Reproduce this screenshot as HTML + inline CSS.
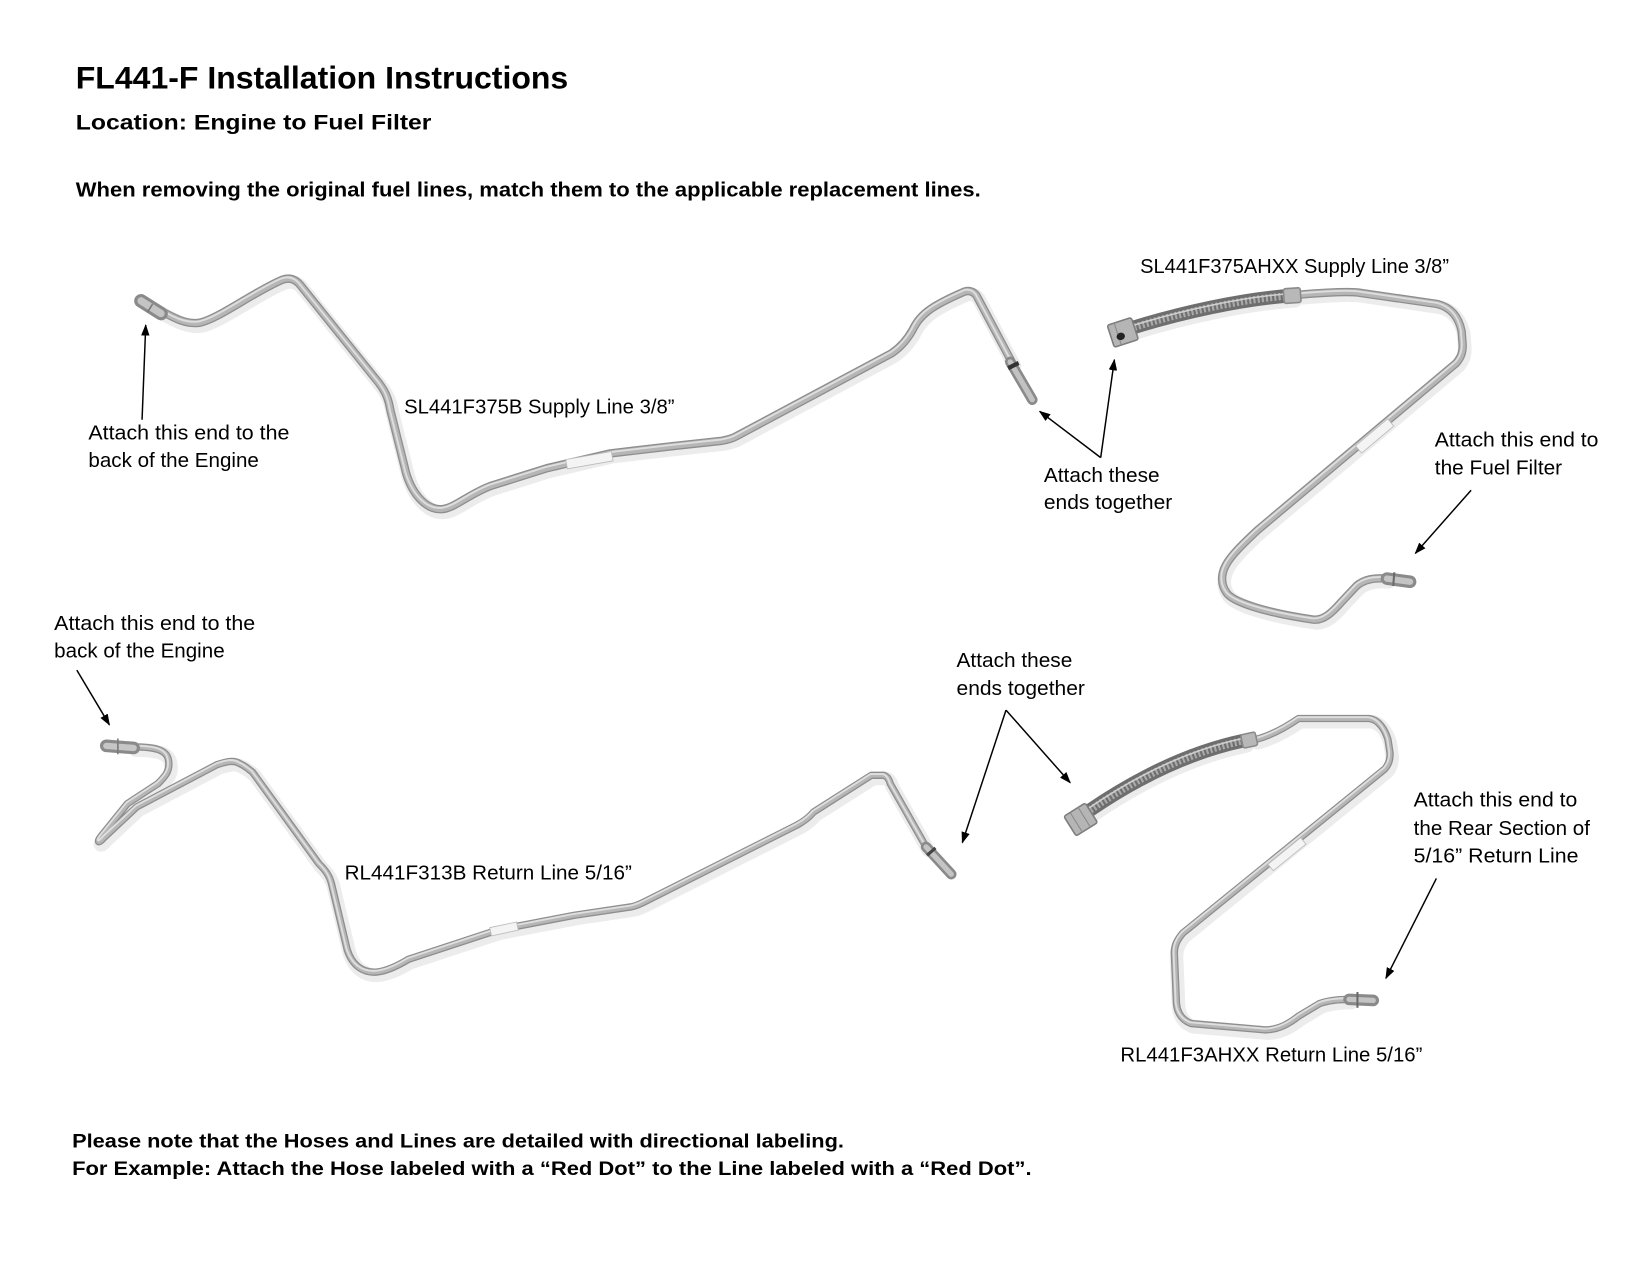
<!DOCTYPE html>
<html><head><meta charset="utf-8"><style>
html,body{margin:0;padding:0;background:#fff;}
svg{display:block;}
text{font-family:"Liberation Sans",sans-serif;fill:#000;}
.b{font-weight:bold;}
.tube-o{fill:none;stroke:#8e8e8e;stroke-width:8;stroke-linejoin:round;stroke-linecap:round;}
.tube-m{fill:none;stroke:#b6b6b6;stroke-width:5.5;stroke-linejoin:round;stroke-linecap:round;}
.tube-h{fill:none;stroke:#dedede;stroke-width:1.8;stroke-linejoin:round;stroke-linecap:round;}
.tube-s{fill:none;stroke:#ececec;stroke-width:13;stroke-linejoin:round;stroke-linecap:round;}
.arr{stroke:#000;stroke-width:1.4;fill:none;}
</style></head><body>
<svg width="1650" height="1275" viewBox="0 0 1568 1212" preserveAspectRatio="none" xmlns="http://www.w3.org/2000/svg">
<defs>
<marker id="ah" markerUnits="userSpaceOnUse" markerWidth="11" markerHeight="8" refX="10" refY="4" orient="auto">
<path d="M0,0 L11,4 L0,8 z" fill="#000"/>
</marker>
<path id="p1" d="M150,294 C165,302 175,308 188,307 C205,305 240,278 268,266 C276,263 282,266 287,273 L360,364 C366,372 369,378 371,390 L386,450 C392,470 405,485 420,484 C432,483 445,470 466,462 L520,445 L580,431 L640,424 L686,419 C692,418 696,417 701,414 L847,336 C856,330 862,323 867,314 C874,300 882,292 917,277 C921,276 925,277 928,281 L962,345"/>
<path id="p2" d="M1236,280 C1260,278 1280,277 1290,278 L1366,289 C1378,292 1386,300 1389,315 L1390,328 C1390,336 1388,340 1384,345 L1195,504 C1180,518 1170,528 1165,537 C1160,546 1160,556 1166,564 C1172,572 1200,582 1248,589 C1258,590 1266,582 1274,573 L1289,557 C1296,551 1305,549 1318,550"/>
<path id="p3" d="M127,710 C145,710 158,712 160,722 C162,732 158,737 150,745 L121,764 L96,795 C92,800 93,803 99,796 L130,767 L206,727 C215,724 222,722 228,726 C233,728 236,731 240,734 L303,821 C309,827 313,832 315,840 L330,903 C335,918 345,925 358,924 C368,923 378,918 388,912 L473,884 L546,870 L600,862 C605,861 609,859 613,857 L758,784 C765,780 769,777 773,772 L828,737 L840,737 C843,738 845,741 846,745 L880,805"/>
<path id="p4" d="M1193,703 C1205,700 1218,694 1234,683 L1301,683 C1310,684 1316,693 1319,703 L1321,716 C1321,722 1320,726 1316,731 L1124,887 C1119,893 1116,898 1116,906 L1118,954 C1119,964 1124,970 1132,973 L1202,979 C1215,979 1225,973 1234,966 L1254,954 C1262,951 1270,950 1282,950"/>
</defs>

<!-- Headings -->
<text class="b" x="72" y="84" font-size="29.5" textLength="468" lengthAdjust="spacingAndGlyphs">FL441-F Installation Instructions</text>
<text class="b" x="72" y="123" font-size="20" textLength="338" lengthAdjust="spacingAndGlyphs">Location: Engine to Fuel Filter</text>
<text class="b" x="72" y="187" font-size="19" textLength="860" lengthAdjust="spacingAndGlyphs">When removing the original fuel lines, match them to the applicable replacement lines.</text>

<!-- Tubes: shadows -->
<g transform="translate(2,3)">
<use href="#p1" class="tube-s"/><use href="#p2" class="tube-s"/><use href="#p3" class="tube-s"/><use href="#p4" class="tube-s"/>
<path d="M1078,311 C1120,298 1180,284 1228,281" fill="none" stroke="#ececec" stroke-width="17" stroke-linecap="round"/>
<path d="M1036,770 C1080,740 1130,715 1182,704" fill="none" stroke="#ececec" stroke-width="17" stroke-linecap="round"/>
</g>
<!-- Tubes -->
<use href="#p1" class="tube-o"/><use href="#p1" class="tube-m"/><use href="#p1" class="tube-h" transform="translate(-0.8,-1.2)"/>
<use href="#p2" class="tube-o"/><use href="#p2" class="tube-m"/><use href="#p2" class="tube-h" transform="translate(-0.8,-1.2)"/>
<use href="#p3" class="tube-o" style="stroke-width:7"/><use href="#p3" class="tube-m" style="stroke-width:4.5"/><use href="#p3" class="tube-h" transform="translate(-0.8,-1.2)"/>
<use href="#p4" class="tube-o" style="stroke-width:7"/><use href="#p4" class="tube-m" style="stroke-width:4.5"/><use href="#p4" class="tube-h" transform="translate(-0.8,-1.2)"/>

<!-- Fittings top-left line -->
<path d="M134,286 L153,298" stroke="#8a8a8a" stroke-width="13" stroke-linecap="round"/>
<path d="M134,286 L153,298" stroke="#c4c4c4" stroke-width="7" stroke-linecap="round"/>
<path d="M145,289 L140,297" stroke="#7a7a7a" stroke-width="1.5"/>
<path d="M960,344 L981,380" stroke="#8a8a8a" stroke-width="10" stroke-linecap="round"/>
<path d="M960,344 L981,380" stroke="#c2c2c2" stroke-width="5" stroke-linecap="round"/>
<path d="M958,350 L968,345" stroke="#333" stroke-width="4"/>

<!-- Top-right hose -->
<path d="M1078,311 C1120,298 1180,284 1228,281" fill="none" stroke="#6e6e6e" stroke-width="13" stroke-linecap="butt"/>
<path d="M1078,311 C1120,298 1180,284 1228,281" fill="none" stroke="#a9a9a9" stroke-width="7" stroke-dasharray="2 2"/>
<path d="M1078,309 C1120,296 1180,282 1228,279" fill="none" stroke="#d0d0d0" stroke-width="1.5"/>
<rect x="1220" y="274" width="16" height="14" rx="2" fill="#b8b8b8" stroke="#8a8a8a" stroke-width="1.5" transform="rotate(-4 1228 281)"/>
<g transform="rotate(-18 1067 316)">
<rect x="1055" y="305" width="24" height="22" rx="2" fill="#b5b5b5" stroke="#7d7d7d" stroke-width="1.5"/>
<line x1="1062" y1="305" x2="1062" y2="327" stroke="#8a8a8a" stroke-width="1"/>
<ellipse cx="1064" cy="319" rx="4" ry="3.5" fill="#222"/>
</g>
<path d="M1318,550 L1340,553" stroke="#8a8a8a" stroke-width="12" stroke-linecap="round"/>
<path d="M1318,550 L1340,553" stroke="#c4c4c4" stroke-width="6" stroke-linecap="round"/>
<path d="M1325,544 L1324,557" stroke="#6a6a6a" stroke-width="2"/>

<!-- Bottom-left fittings -->
<path d="M101,709 L127,711" stroke="#8a8a8a" stroke-width="12" stroke-linecap="round"/>
<path d="M101,709 L127,711" stroke="#c6c6c6" stroke-width="6" stroke-linecap="round"/>
<path d="M112,702 L112,717" stroke="#7a7a7a" stroke-width="1.5"/>
<path d="M880,805 L904,831" stroke="#8a8a8a" stroke-width="10" stroke-linecap="round"/>
<path d="M880,805 L904,831" stroke="#c4c4c4" stroke-width="5" stroke-linecap="round"/>
<path d="M881,813 L889,806" stroke="#444" stroke-width="3"/>

<!-- Bottom-right hose -->
<path d="M1036,770 C1080,740 1130,715 1182,704" fill="none" stroke="#6e6e6e" stroke-width="13"/>
<path d="M1036,770 C1080,740 1130,715 1182,704" fill="none" stroke="#a9a9a9" stroke-width="7" stroke-dasharray="2 2"/>
<path d="M1035,768 C1079,738 1129,713 1181,702" fill="none" stroke="#d0d0d0" stroke-width="1.5"/>
<rect x="1180" y="697" width="14" height="13" rx="2" fill="#b8b8b8" stroke="#8a8a8a" stroke-width="1.5" transform="rotate(-12 1187 703)"/>
<g transform="rotate(-32 1027 779)">
<rect x="1015" y="768" width="24" height="22" rx="2" fill="#b5b5b5" stroke="#7d7d7d" stroke-width="1.5"/>
<line x1="1022" y1="768" x2="1022" y2="790" stroke="#8a8a8a" stroke-width="1"/>
<line x1="1031" y1="768" x2="1031" y2="790" stroke="#8a8a8a" stroke-width="1"/>
</g>
<path d="M1282,950 L1305,951" stroke="#8a8a8a" stroke-width="11" stroke-linecap="round"/>
<path d="M1282,950 L1305,951" stroke="#c4c4c4" stroke-width="5" stroke-linecap="round"/>
<path d="M1290,943 L1290,958" stroke="#6a6a6a" stroke-width="2"/>

<!-- Stickers -->
<rect x="538" y="433" width="44" height="9" fill="#f4f4f4" stroke="#bbb" stroke-width="0.8" transform="rotate(-10 560 437)"/>
<rect x="1286" y="410" width="40" height="9" fill="#f4f4f4" stroke="#bbb" stroke-width="0.8" transform="rotate(-40 1306 414)"/>
<rect x="466" y="879" width="26" height="8" fill="#f4f4f4" stroke="#bbb" stroke-width="0.8" transform="rotate(-12 479 883)"/>
<rect x="1203" y="808" width="40" height="8" fill="#f4f4f4" stroke="#bbb" stroke-width="0.8" transform="rotate(-39 1223 812)"/>

<!-- Arrows -->
<line class="arr" x1="135" y1="399" x2="138.5" y2="309" marker-end="url(#ah)"/>
<line class="arr" x1="1046" y1="435" x2="988" y2="391" marker-end="url(#ah)"/>
<line class="arr" x1="1046" y1="435" x2="1059" y2="342" marker-end="url(#ah)"/>
<line class="arr" x1="1398" y1="466" x2="1345" y2="526" marker-end="url(#ah)"/>
<line class="arr" x1="73" y1="637" x2="104" y2="689" marker-end="url(#ah)"/>
<line class="arr" x1="956" y1="675" x2="914.5" y2="801" marker-end="url(#ah)"/>
<line class="arr" x1="956" y1="675" x2="1017" y2="744" marker-end="url(#ah)"/>
<line class="arr" x1="1365" y1="835" x2="1317" y2="930" marker-end="url(#ah)"/>

<!-- Labels -->
<text x="1083.5" y="259.5" font-size="19" textLength="293.5" lengthAdjust="spacingAndGlyphs">SL441F375AHXX Supply Line 3/8”</text>
<text x="384" y="393" font-size="19" textLength="257" lengthAdjust="spacingAndGlyphs">SL441F375B Supply Line 3/8”</text>
<text x="84" y="418" font-size="19" textLength="191" lengthAdjust="spacingAndGlyphs">Attach this end to the</text>
<text x="84" y="444" font-size="19" textLength="162" lengthAdjust="spacingAndGlyphs">back of the Engine</text>
<text x="992" y="458" font-size="19" textLength="110" lengthAdjust="spacingAndGlyphs">Attach these</text>
<text x="992" y="484" font-size="19" textLength="122" lengthAdjust="spacingAndGlyphs">ends together</text>
<text x="1363.5" y="424.6" font-size="19" textLength="155.5" lengthAdjust="spacingAndGlyphs">Attach this end to</text>
<text x="1363.5" y="451" font-size="19" textLength="121" lengthAdjust="spacingAndGlyphs">the Fuel Filter</text>

<text x="51.5" y="599" font-size="19" textLength="191" lengthAdjust="spacingAndGlyphs">Attach this end to the</text>
<text x="51.5" y="625" font-size="19" textLength="162" lengthAdjust="spacingAndGlyphs">back of the Engine</text>
<text x="909" y="634" font-size="19" textLength="110" lengthAdjust="spacingAndGlyphs">Attach these</text>
<text x="909" y="660.6" font-size="19" textLength="122" lengthAdjust="spacingAndGlyphs">ends together</text>
<text x="1343.4" y="766.8" font-size="19" textLength="155.5" lengthAdjust="spacingAndGlyphs">Attach this end to</text>
<text x="1343.4" y="793.7" font-size="19" textLength="167.5" lengthAdjust="spacingAndGlyphs">the Rear Section of</text>
<text x="1343.4" y="820" font-size="19" textLength="156.6" lengthAdjust="spacingAndGlyphs">5/16” Return Line</text>
<text x="327.5" y="836" font-size="19" textLength="273" lengthAdjust="spacingAndGlyphs">RL441F313B Return Line 5/16”</text>
<text x="1064.7" y="1009.2" font-size="19" textLength="287" lengthAdjust="spacingAndGlyphs">RL441F3AHXX Return Line 5/16”</text>

<!-- Footer -->
<text class="b" x="68.5" y="1090.6" font-size="18.5" textLength="733.5" lengthAdjust="spacingAndGlyphs">Please note that the Hoses and Lines are detailed with directional labeling.</text>
<text class="b" x="68.5" y="1117" font-size="18.5" textLength="911.8" lengthAdjust="spacingAndGlyphs">For Example: Attach the Hose labeled with a “Red Dot” to the Line labeled with a “Red Dot”.</text>
</svg>
</body></html>
